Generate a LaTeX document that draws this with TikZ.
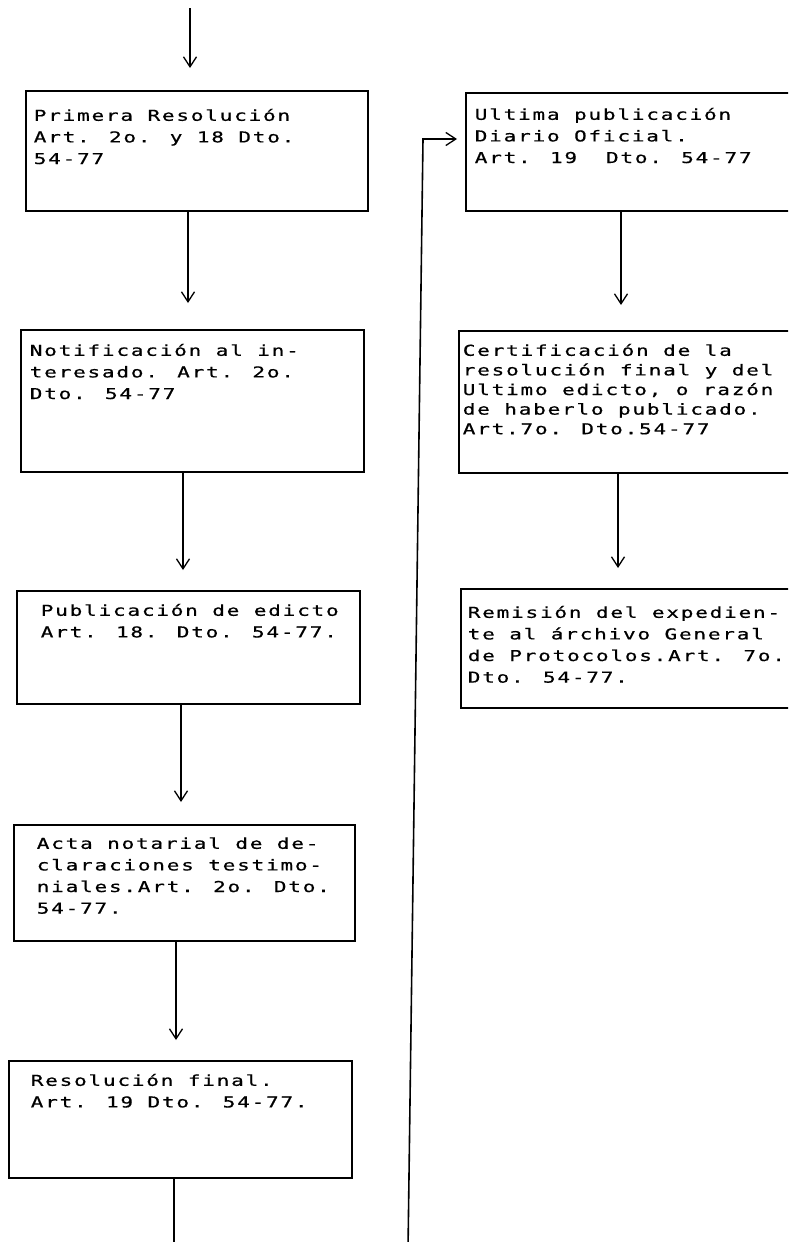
\documentclass[tikz,border=0pt]{standalone}
\usepackage{fontspec}
\newfontfamily\dotfont[FakeStretch=1.4,LetterSpace=12,FakeBold=0.6]{DejaVu Sans Mono}
\usetikzlibrary{arrows.meta}
\newcommand{\firststrut}{\rule{0pt}{13pt}}
\begin{document}
\begin{tikzpicture}[x=1pt,y=-1pt,line width=1.6pt,
  box/.style={draw, inner sep=0pt, anchor=north west},
  txt/.style={inner sep=0pt, anchor=north west, align=left,
    font=\dotfont\fontsize{15}{21.6}\selectfont},
  txtc/.style={txt, font=\dotfont\fontsize{15}{19.6}\selectfont},
  arr/.style={-{Straight Barb[length=10pt,width=13pt,line width=1.3pt]}}]
\path[use as bounding box, clip] (0,0) rectangle (788,1242);
\fill[white] (0,0) rectangle (788,1242);

% left column boxes
\node[box, minimum width=342pt, minimum height=120pt] (b1) at (25,90) {};
\node[box, minimum width=343pt, minimum height=142pt] (b2) at (20,329) {};
\node[box, minimum width=343pt, minimum height=113pt] (b3) at (16,590) {};
\node[box, minimum width=341pt, minimum height=116pt] (b4) at (13,824) {};
\node[box, minimum width=343pt, minimum height=117pt] (b5) at (8,1060) {};

\node[txt] (t1) at (33,107) {\firststrut Primera Resolución\\Art. 2o. y 18 Dto.\\54-77};
\node[txt] (t2) at (29,342) {\firststrut Notificación al in-\\teresado. Art. 2o.\\Dto. 54-77};
\node[txt] (t3) at (40,602) {\firststrut Publicación de edicto\\Art. 18. Dto. 54-77.};
\node[txt] (t4) at (36,835) {\firststrut Acta notarial de de-\\claraciones testimo-\\niales.Art. 2o. Dto.\\54-77.};
\node[txt] (t5) at (30,1072) {\firststrut Resolución final.\\Art. 19 Dto. 54-77.};

% right column boxes
\node[box, minimum width=340pt, minimum height=118pt] (bu) at (465,92) {};
\node[box, minimum width=342pt, minimum height=142pt] (bc) at (458,330) {};
\node[box, minimum width=340pt, minimum height=119pt] (br) at (460,588) {};

\node[txt] (tu) at (474,106) {\firststrut Ultima publicación\\Diario Oficial.\\Art. 19~ Dto. 54-77};
\node[txtc] (tc) at (462,342) {\firststrut Certificación de la\\resolución final y del\\Ultimo edicto, o razón\\de haberlo publicado.\\Art.7o. Dto.54-77};
\node[txt] (tr) at (467,604) {\firststrut Remisión del expedien-\\te al árchivo General\\de Protocolos.Art. 7o.\\Dto. 54-77.};

% connector end points
\coordinate (s0) at (190,8);
\coordinate (a0) at (190,68);
\coordinate (a1) at (188,303);
\coordinate (a2) at (183,570);
\coordinate (a3) at (181,802);
\coordinate (a4) at (176,1040);
\coordinate (z5) at (174,1250);
\coordinate (au) at (621,305);
\coordinate (ac) at (618,568);
\coordinate (e0) at (408,1250);
\coordinate (e1) at (423,139);
\coordinate (e2) at (457,139);

% connectors
\draw[arr] (s0) -- (a0);
\draw[arr] (b1.south -| a1) -- (a1);
\draw[arr] (b2.south -| a2) -- (a2);
\draw[arr] (b3.south -| a3) -- (a3);
\draw[arr] (b4.south -| a4) -- (a4);
\draw (b5.south -| z5) -- (z5);
\draw[arr] (bu.south -| au) -- (au);
\draw[arr] (bc.south -| ac) -- (ac);
\draw[arr] (e0) -- (e1) -- (e2);
\end{tikzpicture}
\end{document}
